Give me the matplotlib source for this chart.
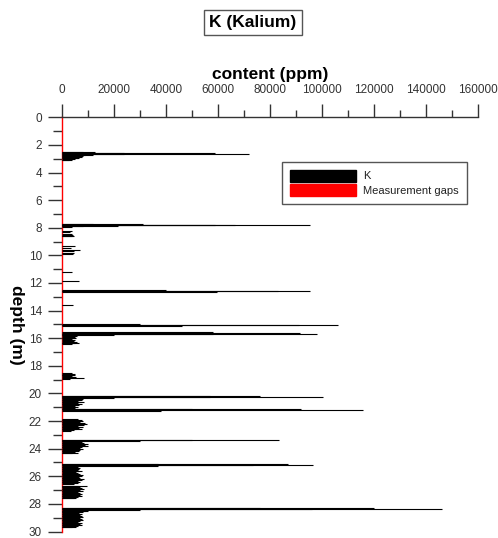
import matplotlib
matplotlib.use("Agg")
import matplotlib.pyplot as plt
from matplotlib.patches import Patch
from matplotlib.ticker import MultipleLocator

plt.rcParams['font.family'] = ['Liberation Sans', 'DejaVu Sans']

depth_m = [
    2.50, 2.54, 2.57, 2.60, 2.63, 2.66, 2.70, 2.74, 2.78, 2.82, 2.86, 2.90, 2.94, 2.98, 3.02, 3.06, 3.10,
    7.70, 7.74, 7.77, 7.80, 7.83, 7.86, 7.90, 7.95,
    8.22, 8.30, 8.45, 8.52, 8.58, 8.62,
    9.34, 9.45, 9.58, 9.70, 9.80, 9.90,
    11.22, 11.87, 12.54, 12.58, 12.61, 12.65, 13.60,
    14.98, 15.02, 15.06, 15.10,
    15.58, 15.62, 15.66, 15.70, 15.74,
    15.78, 15.84, 15.90, 15.96, 16.02, 16.08, 16.14, 16.20, 16.26, 16.32, 16.38, 16.45,
    18.55, 18.60, 18.65, 18.70, 18.75, 18.82, 18.88, 18.95,
    20.15, 20.19, 20.23, 20.27, 20.31,
    20.35, 20.40, 20.45, 20.50, 20.55, 20.60, 20.65, 20.70, 20.75, 20.80, 20.85, 20.90, 20.95, 21.00, 21.05,
    21.12, 21.16, 21.20, 21.24,
    21.85, 21.90, 21.95, 22.00, 22.05, 22.10, 22.15, 22.20, 22.25, 22.30, 22.35, 22.40, 22.45, 22.50,
    22.55, 22.60, 22.65, 22.70,
    23.36, 23.40, 23.44,
    23.48, 23.52, 23.56, 23.60, 23.65, 23.70, 23.75, 23.80, 23.85, 23.90, 23.95, 24.00, 24.05, 24.10,
    24.15, 24.20, 24.25, 24.30, 24.35,
    25.08, 25.12, 25.16, 25.20, 25.24,
    25.30, 25.35, 25.40, 25.45, 25.50, 25.55, 25.60, 25.65, 25.70, 25.75, 25.80, 25.85, 25.90, 25.95,
    26.00, 26.05, 26.10, 26.15, 26.20, 26.25, 26.30, 26.35, 26.40, 26.45, 26.50, 26.55,
    26.68, 26.72, 26.76, 26.80, 26.85, 26.90, 26.95, 27.00, 27.05, 27.10, 27.15, 27.20, 27.25, 27.30,
    27.35, 27.40, 27.45, 27.50, 27.55, 27.60,
    28.28, 28.32, 28.36, 28.40, 28.44,
    28.48, 28.52, 28.56, 28.60, 28.65, 28.70, 28.75, 28.80, 28.85, 28.90, 28.95, 29.00, 29.05, 29.10,
    29.15, 29.20, 29.25, 29.30, 29.35, 29.40, 29.45, 29.50, 29.55, 29.60, 29.65, 29.70,
]
k_ppm = [
    8000, 12700, 24000, 59000, 72000, 24000, 12000, 9000, 7500, 8000, 7000, 7500, 6500, 6000, 5000, 4000, 2500,
    12000, 31000, 66500, 95400, 59000, 21500, 8000, 4000,
    3700, 3000, 3700, 4200, 4600, 4000,
    5000, 3500, 7000, 4500, 4600, 4100,
    3900, 6500, 40000, 83000, 95400, 59600, 4100,
    30000, 91000, 106000, 46000,
    58000, 91500, 98000, 58000, 20000,
    6000, 5600, 5000, 5500, 4500, 4000, 5000, 4500, 5800, 6500, 5000, 3700,
    4000, 5000, 4500, 5000, 4000, 5500, 8500, 3000,
    57000, 76000, 100500, 57000, 20000,
    7000, 8000, 6500, 7500, 6000, 8500, 7000, 6000, 7500, 5500, 6500, 5000, 6000, 4500, 5000,
    50000, 92000, 115800, 38000,
    6000, 7500, 5500, 8000, 6500, 7000, 9000, 9700, 7500, 8500, 6000, 7000, 8000, 6500,
    7500, 5500, 4500, 3500,
    50000, 83500, 30000,
    6000, 7500, 8500, 7000, 10000, 8000, 9000, 10000, 7500, 6500, 7000, 8000, 6000, 7000,
    5500, 6500, 5000, 6000, 4000,
    37000, 87000, 96500, 73500, 37000,
    6000, 5500, 7000, 6500, 5500, 6000, 7500, 6500, 5500, 6000, 7000, 6500, 8000, 6000,
    7500, 6500, 7000, 6000, 8500, 6500, 7500, 6000, 7000, 5500, 6000, 4500,
    9600, 6500, 7000, 6000, 7500, 8500, 6000, 7000, 6500, 8000, 6000, 7000, 7500, 6000,
    7000, 6500, 7500, 6000, 5500, 4500,
    76000, 120000, 146000, 96000, 30000,
    10000, 9000, 8000, 7000, 6500, 7500, 6000, 7000, 6500, 7500, 8000, 6000, 7000, 7500,
    6500, 8000, 7000, 6000, 7500, 6500, 7000, 6000, 7500, 6000, 5500, 4000,
]

title_text = "K (Kalium)"
x_label = "content (ppm)"
y_label = "depth (m)"
legend_labels = ["K", "Measurement gaps"]

W, H = 498, 538
fig = plt.figure(figsize=(W / 100, H / 100), dpi=100)
ax = fig.add_axes([62 / W, 1 - 531.5 / H, (478 - 62) / W, (531.5 - 117.3) / H])

ax.hlines(depth_m, 0, k_ppm, colors="black", linewidth=0.8, zorder=3)

ax.set_xlim(0, 160000)
ax.set_ylim(30, 0)

ax.xaxis.tick_top()
ax.xaxis.set_label_position("top")
ax.xaxis.set_major_locator(MultipleLocator(20000))
ax.xaxis.set_minor_locator(MultipleLocator(10000))
ax.yaxis.set_major_locator(MultipleLocator(2))
ax.yaxis.set_minor_locator(MultipleLocator(1))

tick_col = "#333333"
ax.tick_params(axis="x", which="major", direction="out", length=9.5, width=1, color=tick_col,
               labelsize=8.5, labelcolor=tick_col, pad=5.5)
ax.tick_params(axis="x", which="minor", direction="out", length=5, width=1, color=tick_col)
ax.tick_params(axis="y", which="major", direction="out", length=10, width=1, color=tick_col,
               labelsize=8.5, labelcolor=tick_col, pad=4.5)
ax.tick_params(axis="y", which="minor", direction="out", length=6.5, width=1, color=tick_col)

ax.spines["right"].set_visible(False)
ax.spines["bottom"].set_visible(False)
ax.spines["top"].set_color(tick_col)
ax.spines["top"].set_linewidth(1)
ax.spines["left"].set_color("#ff0000")
ax.spines["left"].set_linewidth(1)

ax.set_xlabel(x_label, fontsize=12.5, fontweight="bold", labelpad=4)

fig.text(16 / W, 1 - 325 / H, y_label, rotation=270, ha="center", va="center",
         fontsize=12.5, fontweight="bold")

fig.text(253 / W, 1 - 22.5 / H, title_text, ha="center", va="center", fontsize=12.5,
         fontweight="bold",
         bbox=dict(boxstyle="square,pad=0.3", facecolor="white", edgecolor="#555555", linewidth=1))

handles = [Patch(facecolor="black", edgecolor="black"), Patch(facecolor="#ff0000", edgecolor="#ff0000")]
leg = fig.legend(handles, legend_labels, loc="upper left", bbox_to_anchor=(282 / W, 1 - 162 / H),
                 bbox_transform=fig.transFigure, borderaxespad=0, fontsize=8, handlelength=6,
                 handleheight=1.25, labelspacing=0.25, handletextpad=0.6, borderpad=0.7,
                 fancybox=False, framealpha=1, edgecolor="#555555")
leg.get_frame().set_linewidth(1)
for t in leg.get_texts():
    t.set_color("#222222")

fig.savefig("out.png", dpi=100)
